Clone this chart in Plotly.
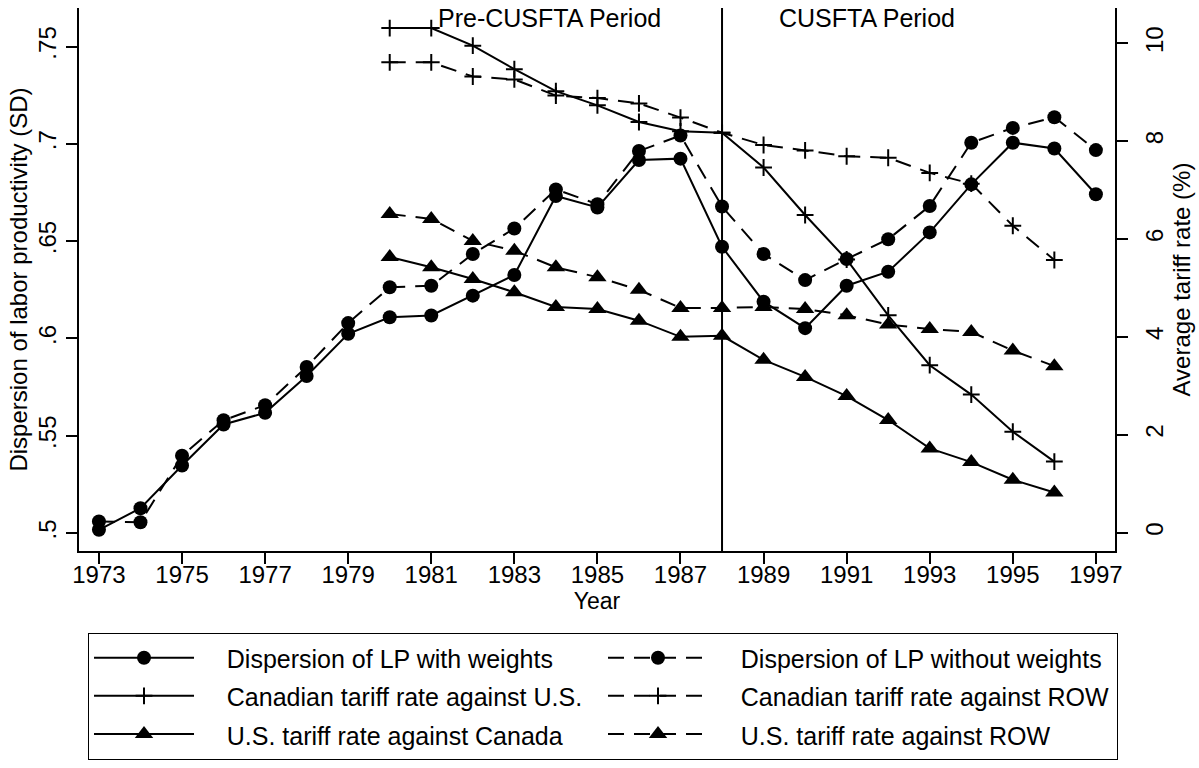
import plotly.graph_objects as go

years = list(range(1973, 1998))
lp_with_weights = [0.5017, 0.5128, 0.5347, 0.5558, 0.5618, 0.5807, 0.6024, 0.6109, 0.6118, 0.6220,
                   0.6326, 0.6732, 0.6673, 0.6917, 0.6924, 0.6471, 0.6189, 0.6053, 0.6271, 0.6343,
                   0.6545, 0.6792, 0.7006, 0.6976, 0.6741]
lp_without_weights = [0.5060, 0.5056, 0.5398, 0.5580, 0.5657, 0.5854, 0.6079, 0.6263, 0.6271, 0.6434,
                      0.6565, 0.6766, 0.6690, 0.6963, 0.7043, 0.6678, 0.6434, 0.6300, 0.6408, 0.6510,
                      0.6681, 0.7006, 0.7082, 0.7137, 0.6968]

tariff_years = list(range(1980, 1997))
can_vs_us = [10.31, 10.31, 9.95, 9.47, 9.02, 8.73, 8.39, 8.20, 8.17, 7.46, 6.49, 5.58, 4.44, 3.42, 2.82, 2.06, 1.45]
can_vs_row = [9.61, 9.61, 9.32, 9.26, 8.93, 8.88, 8.77, 8.48, 8.17, 7.92, 7.81, 7.69, 7.66, 7.35, 7.13, 6.27, 5.57]
us_vs_can = [5.63, 5.42, 5.18, 4.91, 4.61, 4.57, 4.33, 4.00, 4.02, 3.53, 3.18, 2.79, 2.30, 1.72, 1.44, 1.08, 0.82]
us_vs_row = [6.51, 6.41, 5.96, 5.76, 5.42, 5.22, 4.96, 4.59, 4.59, 4.61, 4.57, 4.44, 4.25, 4.16, 4.10, 3.72, 3.40]

series_names = ["Dispersion of LP with weights", "Dispersion of LP without weights",
                "Canadian tariff rate against U.S.", "Canadian tariff rate against ROW",
                "U.S. tariff rate against Canada", "U.S. tariff rate against ROW"]

x_ticks = list(range(1973, 1998, 2))
left_ticks = [0.5, 0.55, 0.6, 0.65, 0.7, 0.75]
left_tick_text = [".5", ".55", ".6", ".65", ".7", ".75"]
right_ticks = [0, 2, 4, 6, 8, 10]

FONT = "Liberation Sans, Arial, Helvetica, sans-serif"
DASH = "16px,10px"
BLACK = "black"
NB = "\u00a0" * 4

fig = go.Figure()

def add(x, y, name, dash, symbol, size, yaxis):
    mk = dict(symbol=symbol, size=size, color=BLACK)
    if symbol == "cross-thin":
        mk["line"] = dict(color=BLACK, width=2)
    label = "<span style='font-size:25px'>" + NB + name + "</span>"
    fig.add_trace(go.Scatter(x=x, y=y, name=label, mode="lines+markers", yaxis=yaxis,
                             line=dict(color=BLACK, width=2, dash=dash), marker=mk))

add(years, lp_with_weights, series_names[0], "solid", "circle", 14, "y")
add(years, lp_without_weights, series_names[1], DASH, "circle", 14, "y")
add(tariff_years, can_vs_us, series_names[2], "solid", "cross-thin", 12, "y2")
add(tariff_years, can_vs_row, series_names[3], DASH, "cross-thin", 12, "y2")
add(tariff_years, us_vs_can, series_names[4], "solid", "triangle-up", 16, "y2")
add(tariff_years, us_vs_row, series_names[5], DASH, "triangle-up", 16, "y2")

fig.add_shape(type="line", xref="x", yref="paper", x0=1988, x1=1988, y0=0, y1=1,
              line=dict(color=BLACK, width=2))

fig.add_annotation(x=1983.85, y=0.9807, xref="x", yref="paper", yanchor="middle",
                   text="Pre-CUSFTA Period", showarrow=False,
                   font=dict(size=25, color=BLACK, family=FONT))
fig.add_annotation(x=1991.5, y=0.9807, xref="x", yref="paper", yanchor="middle",
                   text="CUSFTA Period", showarrow=False,
                   font=dict(size=25, color=BLACK, family=FONT))

axis_common = dict(showgrid=False, zeroline=False, showline=True, linecolor=BLACK, linewidth=2,
                   ticks="outside", ticklen=11, tickwidth=2, tickcolor=BLACK, automargin=False,
                   tickfont=dict(size=24, color=BLACK, family=FONT))

fig.update_layout(
    width=1199, height=768,
    margin=dict(l=79, r=84, t=8, b=215),
    paper_bgcolor="white", plot_bgcolor="white",
    font=dict(family=FONT, color=BLACK),
    xaxis=dict(range=[1972.52, 1997.46], tickvals=x_ticks, ticklabelstandoff=-10,
               title=dict(text="Year", font=dict(size=23), standoff=0), **axis_common),
    yaxis=dict(range=[0.4908, 0.7698], tickvals=left_ticks, ticktext=left_tick_text, tickangle=-90,
               title=dict(text="Dispersion of labor productivity (SD)", font=dict(size=24), standoff=0),
               **axis_common),
    yaxis2=dict(range=[-0.377, 10.72], tickvals=right_ticks, tickangle=-90, overlaying="y", side="right",
                ticklabelstandoff=6,
                title=dict(text="Average tariff rate (%)", font=dict(size=24), standoff=0),
                **axis_common),
    showlegend=True,
    legend=dict(orientation="h", x=0.0087, y=-0.1505, xanchor="left", yanchor="top",
                entrywidth=399, entrywidthmode="pixels", itemwidth=100,
                bordercolor=BLACK, borderwidth=1, bgcolor="white",
                font=dict(size=27, color=BLACK, family=FONT), traceorder="normal"),
)

fig.write_html("out.html", config={"displayModeBar": False},
               post_script="document.body.style.margin='0';")
